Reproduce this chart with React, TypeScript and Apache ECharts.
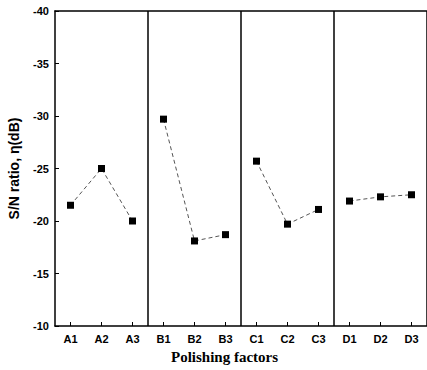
import React, { useEffect, useRef } from "react";
import * as echarts from "echarts";

const categories = ["A1", "A2", "A3", "B1", "B2", "B3", "C1", "C2", "C3", "D1", "D2", "D3"];
const groupA = [-21.5, -25.0, -20.0];
const groupB = [-29.7, -18.1, -18.7];
const groupC = [-25.7, -19.7, -21.1];
const groupD = [-21.9, -22.3, -22.5];
const groups = [groupA, groupB, groupC, groupD];
const yTicks = [-40, -35, -30, -25, -20, -15, -10];

export default function App() {
  const ref = useRef<HTMLDivElement>(null);
  useEffect(() => {
    if (!ref.current) return;
    const chart = echarts.init(ref.current, undefined, { renderer: "svg" });
    const series = groups.map((g, gi) => ({
      type: "line",
      data: g.map((v, i) => [categories[gi * 3 + i], v]),
      symbol: "rect",
      symbolSize: 7,
      itemStyle: { color: "#000" },
      lineStyle: { color: "#555", width: 1, type: [4, 3] },
    }));
    chart.setOption({
      animation: false,
      backgroundColor: "#fff",
      grid: {
        left: 55,
        right: 0,
        top: 11,
        height: 315,
        show: false,
        containLabel: false,
        outerBoundsMode: "none",
      },
      graphic: [
        {
          type: "text",
          left: 230 - 59,
          top: 349,
          style: {
            text: "Polishing factors",
            fill: "#000",
            font: "bold 15px 'Liberation Serif', 'Times New Roman', serif",
          },
        },
      ],
      xAxis: [
        {
          type: "category",
          data: categories,
          boundaryGap: true,
          axisLine: { lineStyle: { color: "#000", width: 1.5 } },
          axisTick: { show: true, alignWithLabel: true, inside: true, length: 4, lineStyle: { color: "#000" } },
          axisLabel: {
            color: "#000",
            fontFamily: "Liberation Sans, Arial",
            fontWeight: "bold",
            fontSize: 11,
            margin: 7,
          },
          splitLine: {
            show: true,
            interval: (index: number) => index === 3 || index === 6 || index === 9,
            lineStyle: { color: "#000", width: 1.5 },
          },
        },
        {
          type: "category",
          position: "top",
          data: categories,
          boundaryGap: true,
          axisLine: { show: true, lineStyle: { color: "#000", width: 1.5 } },
          axisTick: { show: false },
          axisLabel: { show: false },
          splitLine: { show: false },
        },
      ],
      yAxis: {
        type: "value",
        inverse: true,
        min: yTicks[0],
        max: yTicks[yTicks.length - 1],
        interval: 5,
        axisLine: { show: true, lineStyle: { color: "#000", width: 1.5 } },
        axisTick: { show: true, inside: true, length: 4, lineStyle: { color: "#000" } },
        splitLine: { show: false },
        axisLabel: {
          color: "#000",
          fontFamily: "Liberation Sans, Arial",
          fontWeight: "bold",
          fontSize: 11,
          margin: 6,
        },
        name: "S/N ratio, η(dB)",
        nameLocation: "middle",
        nameGap: 34,
        nameTextStyle: {
          color: "#000",
          fontFamily: "Liberation Sans, Arial",
          fontWeight: "bold",
          fontSize: 14,
        },
      },
      series,
    });
    return () => chart.dispose();
  }, []);
  return (
    <div
      ref={ref}
      style={{ position: "fixed", left: 0, top: 0, width: 427, height: 370, background: "#fff" }}
    />
  );
}
